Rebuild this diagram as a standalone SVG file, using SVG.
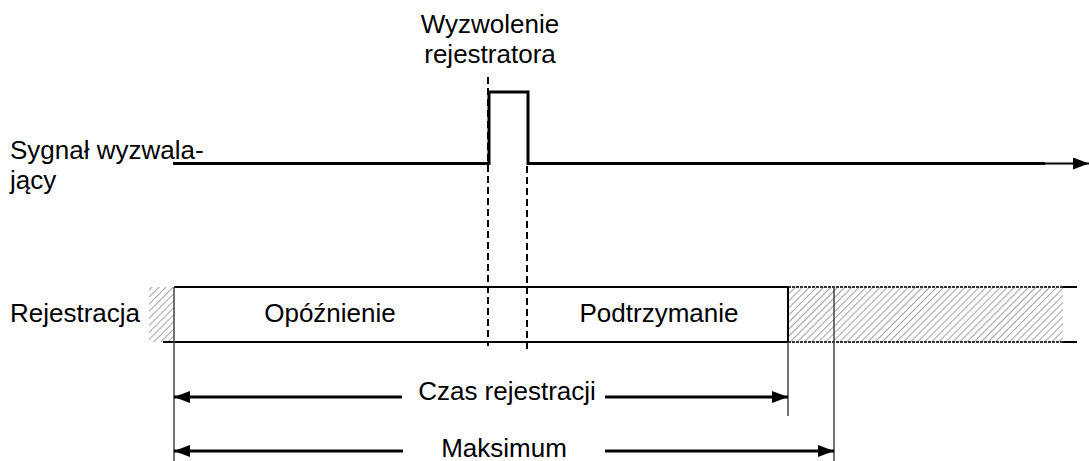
<svg xmlns="http://www.w3.org/2000/svg" width="1089" height="461" viewBox="0 0 1089 461">
  <style>
    .lbl { font-family: "Liberation Sans", Arial, sans-serif; font-size: 26px; fill: #000; }
    .mid { text-anchor: middle; }
    .ln { stroke: #000; fill: none; }
    .edge { stroke: #333; stroke-width: 2; stroke-dasharray: 3 1; fill: none; }
    .dash { stroke: #000; stroke-width: 2; stroke-dasharray: 7 4; fill: none; }
    .thin { stroke: #444; stroke-width: 1.5; fill: none; }
  </style>
  <defs>
    <pattern id="hatch" width="5" height="5" patternUnits="userSpaceOnUse" patternTransform="rotate(45)">
      <rect width="5" height="5" fill="#fff"/>
      <line x1="0" y1="0" x2="0" y2="5" stroke="#8a8a8a" stroke-width="1.6"/>
    </pattern>
    <marker id="ah" viewBox="0 0 16 12" refX="16" refY="6" markerWidth="16" markerHeight="12" markerUnits="userSpaceOnUse" orient="auto-start-reverse">
      <path d="M0,0 L16,6 L0,12 Z" fill="#000"/>
    </marker>
  </defs>

  <!-- trigger signal -->
  <g id="signal">
    <path class="ln" stroke-width="3" d="M173,163.5 H489 V92 H528 V163.5 H1045"/>
    <line class="ln" stroke-width="2" x1="1045" y1="163.5" x2="1089" y2="163.5" marker-end="url(#ah)"/>
    <text class="lbl" x="10" y="159">Sygnał wyzwala-</text>
    <text class="lbl" x="10" y="189">jący</text>
  </g>

  <g id="trigger">
    <text class="lbl mid" x="490" y="33">Wyzwolenie</text>
    <text class="lbl mid" x="490" y="63">rejestratora</text>
  </g>

  <!-- recording bar -->
  <g id="recording">
    <rect x="149" y="287" width="25" height="55" fill="url(#hatch)"/>
    <rect x="788" y="287" width="275" height="55" fill="url(#hatch)"/>
    <line class="ln" stroke-width="2" x1="174" y1="287" x2="788" y2="287"/>
    <line class="ln" stroke-width="2" x1="163" y1="342" x2="788" y2="342"/>
    <line class="edge" x1="788" y1="287" x2="1063" y2="287"/>
    <line class="edge" x1="788" y1="342" x2="1063" y2="342"/>
    <line class="ln" stroke-width="2" x1="1063" y1="287" x2="1077" y2="287"/>
    <line class="ln" stroke-width="2" x1="1063" y1="342" x2="1077" y2="342"/>
    <line class="ln" stroke-width="2" x1="788" y1="287" x2="788" y2="342"/>
    <text class="lbl" x="10" y="322">Rejestracja</text>
  </g>

  <g id="delay">
    <text class="lbl mid" x="330" y="322">Opóźnienie</text>
  </g>

  <g id="hold">
    <text class="lbl mid" x="659" y="322">Podtrzymanie</text>
  </g>

  <!-- markers, guides and dimension arrows -->
  <g id="connectors">
    <line class="dash" x1="488" y1="77" x2="488" y2="346"/>
    <line class="dash" x1="527" y1="166" x2="527" y2="349"/>
    <line class="thin" x1="174" y1="287" x2="174" y2="461"/>
    <line class="thin" x1="788" y1="342" x2="788" y2="416"/>
    <line class="thin" x1="834" y1="287" x2="834" y2="461"/>
    <line class="ln" stroke-width="3" x1="402" y1="397" x2="174" y2="397" marker-end="url(#ah)"/>
    <line class="ln" stroke-width="3" x1="605" y1="397" x2="788" y2="397" marker-end="url(#ah)"/>
    <line class="ln" stroke-width="3" x1="403" y1="451" x2="174" y2="451" marker-end="url(#ah)"/>
    <line class="ln" stroke-width="3" x1="605" y1="451" x2="834" y2="451" marker-end="url(#ah)"/>
  </g>

  <g id="spans">
    <text class="lbl mid" x="507" y="400">Czas rejestracji</text>
    <text class="lbl mid" x="504" y="457">Maksimum</text>
  </g>
</svg>
